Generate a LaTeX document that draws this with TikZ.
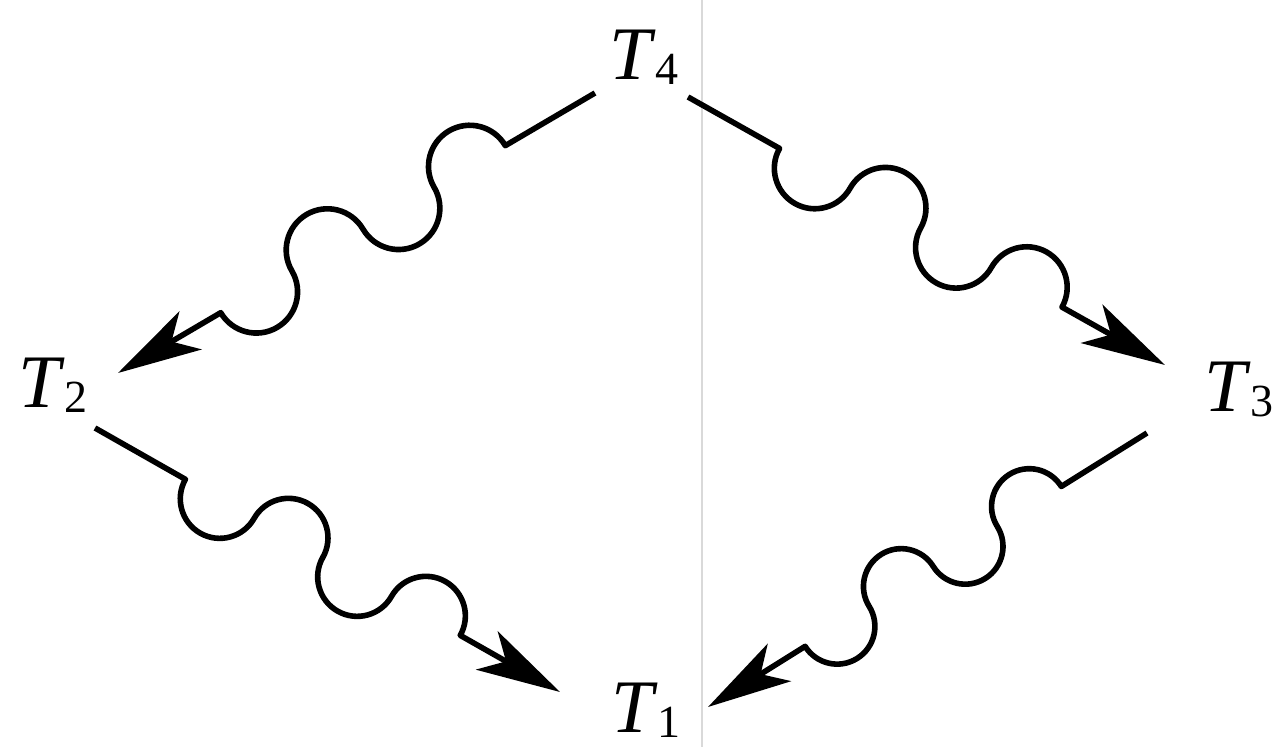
\documentclass[tikz,border=0pt]{standalone}
\usepackage{fontspec}
\setmainfont{Liberation Serif}
\usetikzlibrary{decorations,arrows.meta}
\pgfdeclaredecoration{halfwaves}{right}{
  \state{right}[width=\pgfdecorationsegmentlength, next state=left]{
    \pgfmathsetlengthmacro\wvr{0.5*\pgfdecorationsegmentlength}
    \pgfmathsetlengthmacro\wvk{0.27614*\pgfdecorationsegmentlength}
    \pgfpathcurveto{\pgfpoint{0pt}{-\wvk}}{\pgfpoint{\wvr-\wvk}{-\wvr}}{\pgfpoint{\wvr}{-\wvr}}
    \pgfpathcurveto{\pgfpoint{\wvr+\wvk}{-\wvr}}{\pgfpoint{2*\wvr}{-\wvk}}{\pgfpoint{2*\wvr}{0pt}}
  }
  \state{left}[width=\pgfdecorationsegmentlength, next state=right]{
    \pgfmathsetlengthmacro\wvr{0.5*\pgfdecorationsegmentlength}
    \pgfmathsetlengthmacro\wvk{0.27614*\pgfdecorationsegmentlength}
    \pgfpathcurveto{\pgfpoint{0pt}{\wvk}}{\pgfpoint{\wvr-\wvk}{\wvr}}{\pgfpoint{\wvr}{\wvr}}
    \pgfpathcurveto{\pgfpoint{\wvr+\wvk}{\wvr}}{\pgfpoint{2*\wvr}{\wvk}}{\pgfpoint{2*\wvr}{0pt}}
  }
  \state{final}{\pgfpathlineto{\pgfpointdecoratedpathlast}}
}
\newcommand{\subdig}[1]{\raisebox{-2.5pt}{\fontsize{23}{23}\selectfont #1}}
\begin{document}
\begin{tikzpicture}[x=0.5pt,y=-0.5pt, line join=round,
  lab/.style={inner sep=0pt, anchor=base west, font=\fontsize{37.8}{40}\selectfont},
  link/.style n args={3}{line width=2.8pt, -{Stealth[length=42pt,width=22pt,inset=11pt]},
    decorate, decoration={halfwaves, pre length=#1, segment length=#2, post length=#3}}]
\useasboundingbox (0,0) rectangle (1276,747);
\draw[gray!30, line width=1pt] (702,0) -- (702,747);
\node[lab] (T4) at (609,80) {\textit{T}\subdig{4}};
\node[lab] (T2) at (18,408) {\textit{T}\subdig{2}};
\node[lab] (T3) at (1204,412) {\textit{T}\subdig{3}};
\node[lab] (T1) at (611,733) {\textit{T}\subdig{1}};
\coordinate (a4) at (595,93);
\coordinate (b2) at (118,373);
\coordinate (c4) at (688,97);
\coordinate (d3) at (1165,365);
\coordinate (e2) at (95,428);
\coordinate (f1) at (560,692);
\coordinate (g3) at (1147,433);
\coordinate (h1) at (708,707);
\draw[link={52pt}{41.25pt}{59pt}] (a4) -- (b2);
\draw[link={52.5pt}{40.5pt}{58.5pt}] (c4) -- (d3);
\draw[link={52pt}{39.5pt}{56.8pt}] (e2) -- (f1);
\draw[link={50.5pt}{37.75pt}{57pt}] (g3) -- (h1);
\end{tikzpicture}
\end{document}
